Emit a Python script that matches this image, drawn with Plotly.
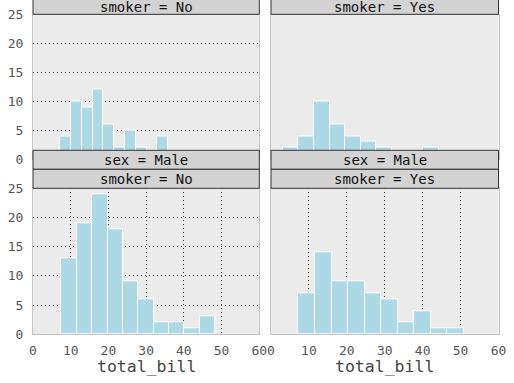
import numpy as np
import plotly.graph_objects as go

# ---- data (tips: total_bill histograms, 10 bins per facet) ----
sex_levels = ["Female", "Male"]
smoker_levels = ["No", "Yes"]

female_no_range = [7.25, 35.83]
female_no_counts = [4, 10, 9, 12, 6, 2, 5, 2, 0, 4]

female_yes_range = [3.07, 44.30]
female_yes_counts = [2, 4, 10, 6, 4, 3, 2, 0, 0, 2]

male_no_range = [7.51, 48.33]
male_no_counts = [13, 19, 24, 18, 9, 6, 2, 2, 1, 3]

male_yes_range = [7.25, 50.81]
male_yes_counts = [7, 14, 9, 9, 7, 6, 2, 4, 1, 1]

x_ticks = [0, 10, 20, 30, 40, 50, 60]
y_ticks = [0, 5, 10, 15, 20, 25]
x_label = "total_bill"

# ---- layout helpers (pixel -> paper) ----
W, H = 514, 383
def PX(p):
    return p / W
def PY(p):
    return 1 - p / H

col_dom = [[PX(33), PX(259.3)], [PX(271), PX(498.5)]]
row_dom = [[PY(159.3), PY(14.5)], [PY(334.3), PY(188.3)]]

panels = [
    # row, col, range, counts, xgrid, ygrid
    (0, 0, female_no_range, female_no_counts, False, True),
    (0, 1, female_yes_range, female_yes_counts, False, False),
    (1, 0, male_no_range, male_no_counts, True, True),
    (1, 1, male_yes_range, male_yes_counts, True, False),
]

FONT = "DejaVu Sans Mono"
BAR = "#ADD8E6"
BG = "#EBEBEB"
GRID = "#444444"

fig = go.Figure()
layout = {}
for i, (r, c, rng, counts, xg, yg) in enumerate(panels):
    n = i + 1
    sfx = "" if n == 1 else str(n)
    edges = np.linspace(rng[0], rng[1], len(counts) + 1)
    centers = (edges[:-1] + edges[1:]) / 2
    widths = np.diff(edges)
    fig.add_trace(go.Bar(
        x=centers, y=counts, width=widths,
        marker=dict(color=BAR, line=dict(color="white", width=1)),
        xaxis="x" + sfx, yaxis="y" + sfx, showlegend=False,
        hoverinfo="x+y",
    ))
    layout["xaxis" + sfx] = dict(
        domain=col_dom[c], anchor="y" + sfx, range=[0, 60],
        tickvals=x_ticks, showticklabels=(r == 1),
        showgrid=xg, griddash="1px,3px", gridcolor=GRID, gridwidth=1,
        zeroline=False, showline=True, mirror=True, linecolor="#C4C4C4", linewidth=1,
        ticks="", ticklabelstandoff=4, automargin=False,
        tickfont=dict(family=FONT, size=13, color="#555555"),
        fixedrange=True,
    )
    layout["yaxis" + sfx] = dict(
        domain=row_dom[r], anchor="x" + sfx, range=[0, 25],
        tickvals=y_ticks, showticklabels=(c == 0),
        showgrid=yg, griddash="1px,3px", gridcolor=GRID, gridwidth=1,
        zeroline=False, showline=True, mirror=True, linecolor="#C4C4C4", linewidth=1,
        ticks="", ticklabelstandoff=6, automargin=False,
        tickfont=dict(family=FONT, size=13, color="#555555"),
        fixedrange=True,
    )

shapes = []
annotations = []
STRIP = "#D3D3D3"
STRIP_FONT = dict(family=FONT, size=14, color="#111111")
# top row strips (smoker) - sex strip above is cut off the canvas
for c, sm in enumerate(smoker_levels):
    shapes.append(dict(type="rect", xref="paper", yref="paper",
                       x0=col_dom[c][0], x1=col_dom[c][1], y0=PY(14.3), y1=PY(-4.7),
                       fillcolor=STRIP, line=dict(color="#333333", width=1), layer="above"))
    annotations.append(dict(xref="paper", yref="paper", x=sum(col_dom[c]) / 2, y=PY(6.5),
                            text=f"smoker = {sm}", showarrow=False,
                            xanchor="center", yanchor="middle", font=STRIP_FONT))
# bottom row strips (sex, smoker)
for c, sm in enumerate(smoker_levels):
    for (t0, t1, txt) in [(150.3, 169.3, f"sex = {sex_levels[1]}"),
                          (169.3, 188.3, f"smoker = {sm}")]:
        shapes.append(dict(type="rect", xref="paper", yref="paper",
                           x0=col_dom[c][0], x1=col_dom[c][1], y0=PY(t1), y1=PY(t0),
                           fillcolor=STRIP, line=dict(color="#333333", width=1), layer="above"))
        annotations.append(dict(xref="paper", yref="paper", x=sum(col_dom[c]) / 2,
                                y=PY((t0 + t1) / 2), text=txt, showarrow=False,
                                xanchor="center", yanchor="middle", font=STRIP_FONT))
# x axis titles
for c in range(2):
    annotations.append(dict(xref="paper", yref="paper", x=sum(col_dom[c]) / 2, y=PY(366),
                            text=x_label, showarrow=False, xanchor="center", yanchor="middle",
                            font=dict(family=FONT, size=16.5, color="#444444")))

fig.update_layout(
    width=W, height=H, margin=dict(l=0, r=0, t=0, b=0, autoexpand=False),
    paper_bgcolor="white", plot_bgcolor=BG,
    bargap=0, shapes=shapes, annotations=annotations,
    **layout,
)

fig.write_html(
    "out.html",
    config={"displayModeBar": False},
    post_script="document.body.style.margin='0';document.body.style.overflow='hidden';",
)
